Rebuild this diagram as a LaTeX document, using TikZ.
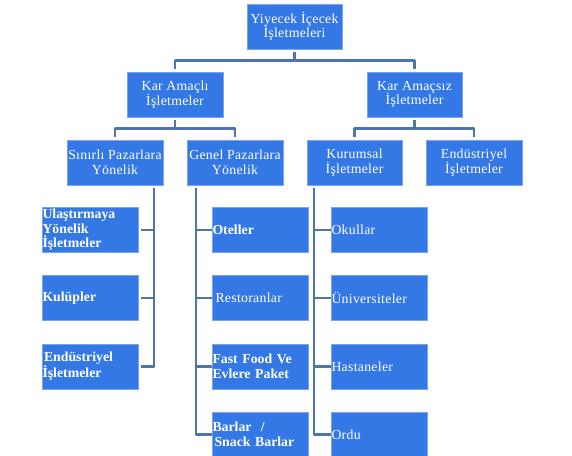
\documentclass[tikz,border=0pt]{standalone}
\usepackage{fontspec}
\setmainfont{Liberation Serif}
\newfontfamily\wideserif[LetterSpace=2]{Liberation Serif}
\definecolor{boxblue}{RGB}{52,120,229}
\definecolor{boxedge}{RGB}{120,165,236}
\definecolor{connblue}{RGB}{78,117,170}
\begin{document}
\begin{tikzpicture}[x=1pt,y=-1pt,
  box/.style={fill=boxblue,draw=boxedge,line width=0.6pt,minimum width=96pt,minimum height=45pt,
    text=white,inner sep=0.5pt,font=\wideserif\fontsize{13.8}{14.5}\selectfont},
  hbox/.style={box,align=center},
  lbox/.style={box,align=left,text width=95pt,font=\fontsize{13.8}{14.5}\selectfont\bfseries},
  lboxr/.style={box,align=left,text width=95pt},
  conn/.style={draw=connblue,line width=2.8pt,line join=round}]
\useasboundingbox (0,0) rectangle (572,455);
\clip (0,0) rectangle (572,455);
% upper levels
\node[hbox,minimum width=95pt] (top) at (294.5,26.5) {Yiyecek İçecek\\İşletmeleri};
\node[hbox] (kacli) at (175,94.5) {Kar Amaçlı\\İşletmeler};
\node[hbox,minimum width=95pt] (kacsiz) at (414.5,94.5) {Kar Amaçsız\\İşletmeler};
\node[hbox] (sinirli) at (115,162.5) {Sınırlı Pazarlara\\Yönelik};
\node[hbox] (genel) at (235,162.5) {Genel Pazarlara\\Yönelik};
\node[hbox,minimum width=95pt] (kurumsal) at (354.5,162.5) {Kurumsal\\İşletmeler};
\node[hbox] (endus) at (474,162.5) {Endüstriyel\\İşletmeler};
% left column
\node[lbox] (ulas) at (90,230) {Ulaştırmaya\\Yönelik\\İşletmeler};
\node[lbox] (kulup) at (90,298) {Kulüpler};
\node[lbox] (endus2) at (90,366.5) {\hspace{1.5pt}Endüstriyel\\İşletmeler};
% genel column
\node[lbox] (oteller) at (260,230) {Oteller};
\node[lboxr] (rest) at (260,298) {\hspace{3pt}Restoranlar};
\node[lbox] (fast) at (260,366.5) {Fast Food Ve\\Evlere Paket};
\node[lbox] (barlar) at (260,434.5) {Barlar\ \ /\\\hspace{2pt}Snack Barlar};
% kurumsal column
\node[lboxr] (okul) at (379,230) {Okullar};
\node[lboxr] (univ) at (379,298) {Üniversiteler};
\node[lboxr] (hast) at (379,366.5) {Hastaneler};
\node[lboxr] (ordu) at (379,434.5) {Ordu};
% tree connectors
\draw[conn] ([yshift=-3pt]top.south) -- ++(0,8) coordinate (t1) -| ([yshift=3pt]kacli.north)
  (t1) -| ([yshift=3pt]kacsiz.north);
\draw[conn] ([yshift=-3pt]kacli.south) -- ++(0,8) coordinate (t2) -| ([yshift=3pt]sinirli.north)
  (t2) -| ([yshift=3pt]genel.north);
\draw[conn] ([yshift=-3pt]kacsiz.south) -- ++(0,8) coordinate (t3) -| ([yshift=3pt]kurumsal.north)
  (t3) -| ([yshift=3pt]endus.north);
% column connectors
\coordinate (lv) at (154,188);
\coordinate (gv) at (196,188);
\coordinate (kv) at (314,188);
\draw[conn] (lv) |- ([xshift=3pt]endus2.east);
\draw[conn] ([xshift=3pt]ulas.east) -- (ulas.east -| lv);
\draw[conn] ([xshift=3pt]kulup.east) -- (kulup.east -| lv);
\draw[conn] (gv) |- (barlar.west);
\draw[conn] (oteller.west -| gv) -- (oteller.west);
\draw[conn] (rest.west -| gv) -- (rest.west);
\draw[conn] (fast.west -| gv) -- (fast.west);
\draw[conn] (kv) |- (ordu.west);
\draw[conn] (okul.west -| kv) -- (okul.west);
\draw[conn] (univ.west -| kv) -- (univ.west);
\draw[conn] (hast.west -| kv) -- (hast.west);
\end{tikzpicture}
\end{document}
